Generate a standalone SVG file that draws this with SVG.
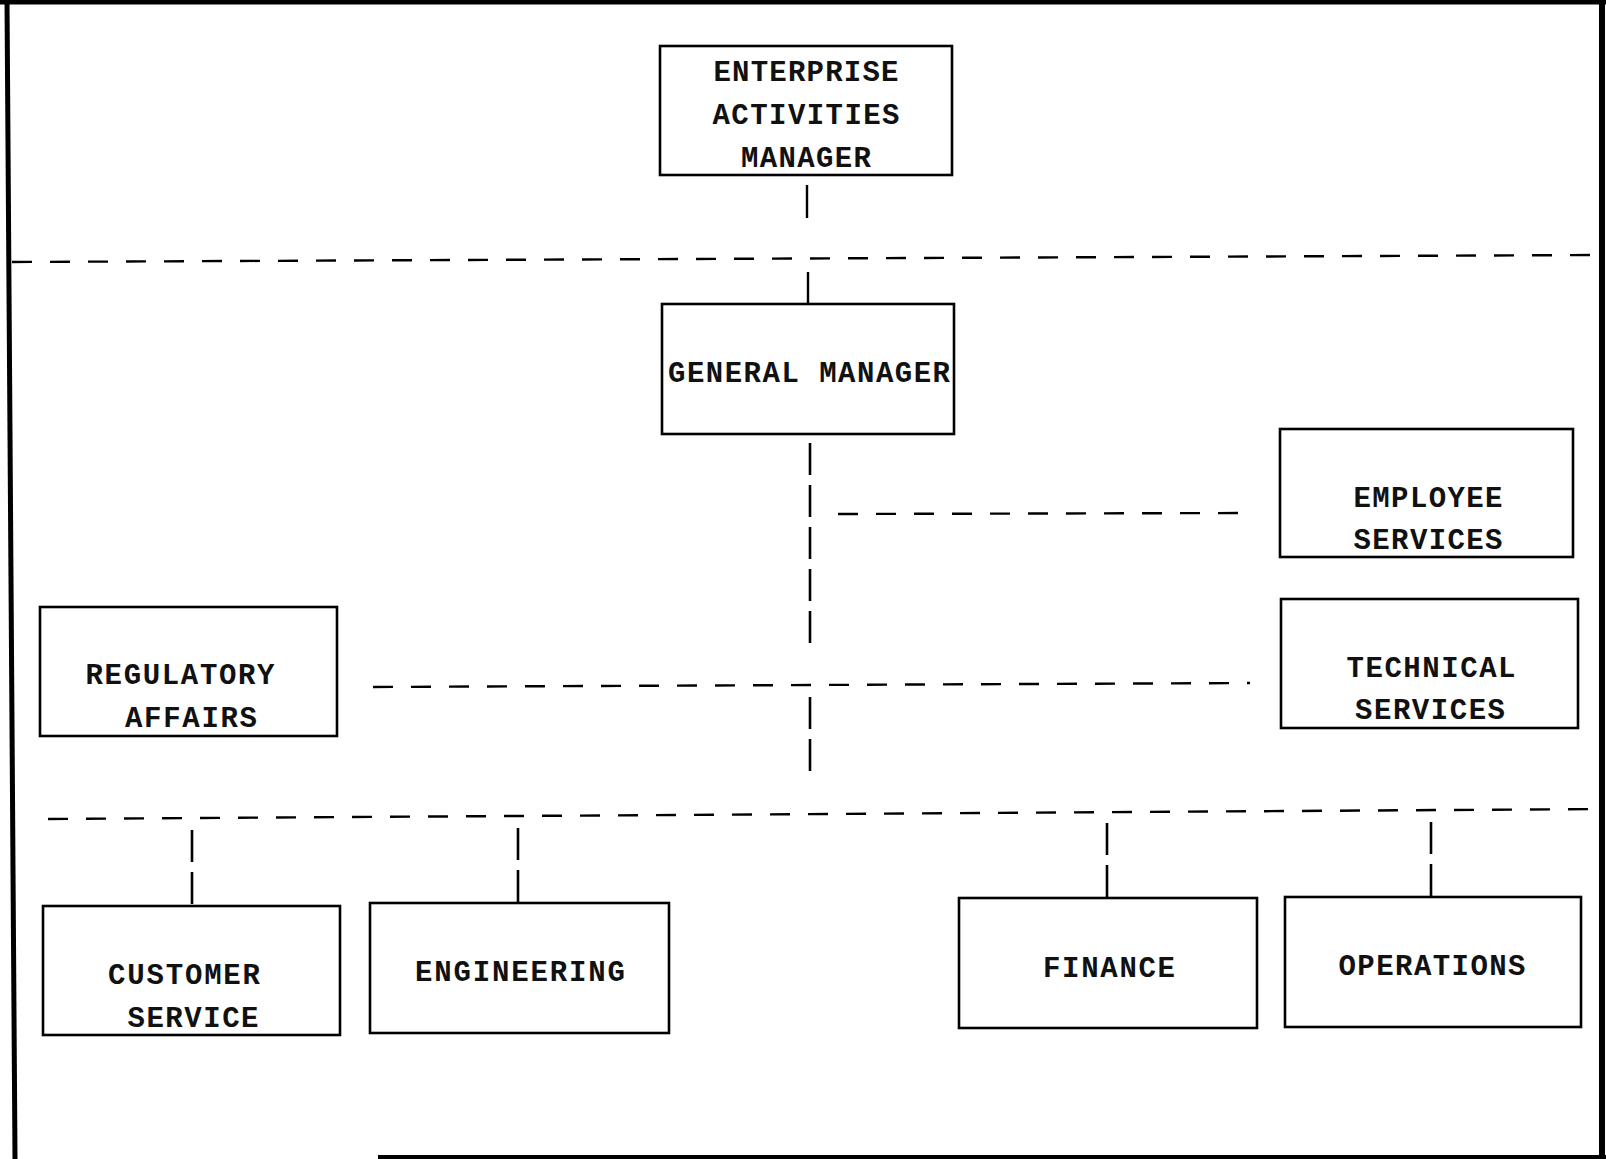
<svg xmlns="http://www.w3.org/2000/svg" width="1606" height="1159" viewBox="0 0 1606 1159">
<style>
.box{fill:#fff;stroke:#000;stroke-width:2.6}
.t{font-family:"Liberation Mono","Courier New",monospace;font-size:29px;font-weight:bold;fill:#111;text-anchor:middle}
.solid{stroke:#000;stroke-width:2.4;fill:none}
.dash{stroke:#000;stroke-width:2.4;fill:none;stroke-dasharray:20 18}
.vdash{stroke:#000;stroke-width:2.6;fill:none;stroke-dasharray:32 10}
.border{stroke:#000;fill:none}
</style>
<rect x="0" y="0" width="1606" height="1159" fill="#fff"/>
<g id="frame">
<line class="border" x1="0" y1="2" x2="1606" y2="2" stroke-width="5"/>
<line class="border" x1="7" y1="0" x2="15" y2="1159" stroke-width="5"/>
<line class="border" x1="1602" y1="0" x2="1602" y2="1159" stroke-width="6"/>
<line class="border" x1="378" y1="1157" x2="1606" y2="1157" stroke-width="4"/>
</g>
<g id="connectors">
<line class="solid" x1="807" y1="185" x2="807" y2="218"/>
<line class="dash" x1="12" y1="262" x2="1598" y2="255"/>
<line class="solid" x1="808" y1="272" x2="808" y2="304"/>
<line class="vdash" x1="810" y1="443" x2="810" y2="646"/>
<line class="vdash" x1="810" y1="697" x2="810" y2="773"/>
<line class="dash" x1="838" y1="514" x2="1252" y2="513"/>
<line class="dash" x1="373" y1="687" x2="1250" y2="683"/>
<line class="dash" x1="48" y1="819" x2="1603" y2="809"/>
<line class="vdash" x1="192" y1="830" x2="192" y2="906"/>
<line class="vdash" x1="518" y1="828" x2="518" y2="903"/>
<line class="vdash" x1="1107" y1="823" x2="1107" y2="898"/>
<line class="vdash" x1="1431" y1="822" x2="1431" y2="897"/>
</g>
<g id="enterprise-activities-manager">
<rect class="box" x="660" y="46" width="292" height="129"/>
<text class="t" x="806" y="81" textLength="185">ENTERPRISE</text>
<text class="t" x="806" y="124" textLength="187">ACTIVITIES</text>
<text class="t" x="806" y="167" textLength="130">MANAGER</text>
</g>
<g id="general-manager">
<rect class="box" x="662" y="304" width="292" height="130"/>
<text class="t" x="809" y="382" textLength="282">GENERAL MANAGER</text>
</g>
<g id="employee-services">
<rect class="box" x="1280" y="429" width="293" height="128"/>
<text class="t" x="1428" y="507" textLength="149">EMPLOYEE</text>
<text class="t" x="1428" y="549" textLength="149">SERVICES</text>
</g>
<g id="technical-services">
<rect class="box" x="1281" y="599" width="297" height="129"/>
<text class="t" x="1431" y="677" textLength="169">TECHNICAL</text>
<text class="t" x="1430" y="719" textLength="150">SERVICES</text>
</g>
<g id="regulatory-affairs">
<rect class="box" x="40" y="607" width="297" height="129"/>
<text class="t" x="180" y="684" textLength="189">REGULATORY</text>
<text class="t" x="191" y="727" textLength="132">AFFAIRS</text>
</g>
<g id="customer-service">
<rect class="box" x="43" y="906" width="297" height="129"/>
<text class="t" x="184" y="984" textLength="152">CUSTOMER</text>
<text class="t" x="193" y="1027" textLength="131">SERVICE</text>
</g>
<g id="engineering">
<rect class="box" x="370" y="903" width="299" height="130"/>
<text class="t" x="520" y="981" textLength="210">ENGINEERING</text>
</g>
<g id="finance">
<rect class="box" x="959" y="898" width="298" height="130"/>
<text class="t" x="1109" y="977" textLength="132">FINANCE</text>
</g>
<g id="operations">
<rect class="box" x="1285" y="897" width="296" height="130"/>
<text class="t" x="1432" y="975" textLength="187">OPERATIONS</text>
</g>
</svg>
